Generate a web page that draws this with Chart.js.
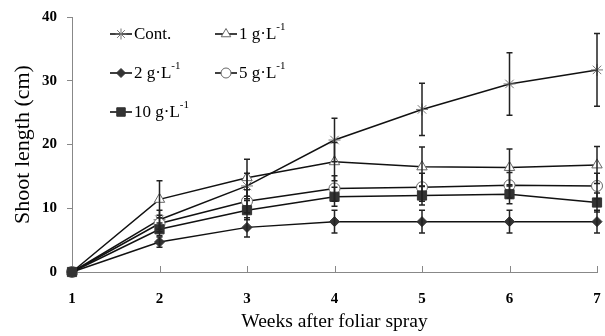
<!DOCTYPE html>
<html>
<head>
<meta charset="utf-8">
<script src="https://cdn.jsdelivr.net/npm/chart.js@4.4.1/dist/chart.umd.min.js"></script>
<style>
  html, body { margin: 0; padding: 0; background: #fff; }
  #wrap { width: 605px; height: 336px; }
</style>
</head>
<body>
<div id="wrap"><canvas id="shootChart" width="605" height="336"></canvas></div>
<script>
const weeks = ['1', '2', '3', '4', '5', '6', '7'];

const cont = [0, 8.2, 13.5, 20.7, 25.5, 29.5, 31.7];
const g1 = [0, 11.4, 14.8, 17.3, 16.5, 16.4, 16.8];
const g2 = [0, 4.7, 7.0, 7.9, 7.9, 7.9, 7.9];
const g5 = [0, 7.6, 11.1, 13.1, 13.3, 13.6, 13.5];
const g10 = [0, 6.7, 9.7, 11.8, 12.0, 12.2, 10.9];

const contErr = [0, 1.5, 2.0, 3.4, 4.1, 4.9, 5.7];
const g1Err = [0, 2.9, 2.9, 3.0, 3.1, 2.9, 2.9];
const g2Err = [0, 0.8, 1.5, 1.8, 1.8, 1.8, 1.8];
const g5Err = [0, 1.3, 1.8, 2.0, 2.2, 2.0, 2.0];
const g10Err = [0, 1.0, 1.5, 1.5, 1.5, 1.5, 1.5];

const yTicks = [0, 10, 20, 30, 40];

const serif = "'Liberation Serif', 'Times New Roman', serif";

// order: lower draws on top, so the 10 g square sits over the rest
const series = [
    { label: 'Cont.', data: cont, err: contErr, style: 'star', r: 6, fill: '#fff', stroke: '#777', order: 4 },
    { label: '1 g·L', data: g1, err: g1Err, style: 'triangle', r: 6, fill: '#fff', stroke: '#666', order: 3 },
    { label: '2 g·L', data: g2, err: g2Err, style: 'rectRot', r: 5, fill: '#333', stroke: '#333', order: 1 },
    { label: '5 g·L', data: g5, err: g5Err, style: 'circle', r: 5.5, fill: '#fff', stroke: '#666', order: 2 },
    { label: '10 g·L', data: g10, err: g10Err, style: 'rect', r: 6.5, fill: '#333', stroke: '#333', order: 0 }
];

// error bars drawn from the scales
const errorBars = {
    id: 'errorBars',
    afterDatasetsDraw(chart) {
        const ctx = chart.ctx;
        const xs = chart.scales.x, ys = chart.scales.y;
        ctx.save();
        ctx.strokeStyle = '#222';
        ctx.lineWidth = 1.5;
        series.forEach(s => {
            s.data.forEach((v, i) => {
                const e = s.err[i];
                if (!e) return;
                const x = xs.getPixelForValue(i);
                const top = ys.getPixelForValue(v + e);
                const bot = ys.getPixelForValue(v - e);
                ctx.beginPath();
                ctx.moveTo(x, top); ctx.lineTo(x, bot);
                ctx.moveTo(x - 3, top); ctx.lineTo(x + 3, top);
                ctx.moveTo(x - 3, bot); ctx.lineTo(x + 3, bot);
                ctx.stroke();
            });
        });
        ctx.restore();
    }
};

// inward x ticks
const innerTicks = {
    id: 'innerTicks',
    afterDraw(chart) {
        const ctx = chart.ctx;
        const xs = chart.scales.x;
        const bottom = chart.chartArea.bottom;
        ctx.save();
        ctx.strokeStyle = '#888';
        ctx.lineWidth = 1;
        for (let i = 1; i < weeks.length; i++) {
            const x = Math.round(xs.getPixelForValue(i)) + 0.5;
            ctx.beginPath();
            ctx.moveTo(x, bottom);
            ctx.lineTo(x, bottom - 6);
            ctx.stroke();
        }
        ctx.restore();
    }
};

// legend inside the plot
const innerLegend = {
    id: 'innerLegend',
    afterDraw(chart) {
        const ctx = chart.ctx;
        const spots = [[110, 34], [215, 34], [110, 73], [215, 73], [110, 112]];
        ctx.save();
        series.forEach((s, i) => {
            const [x, y] = spots[i];
            ctx.strokeStyle = '#000';
            ctx.lineWidth = 1.5;
            ctx.beginPath();
            ctx.moveTo(x, y); ctx.lineTo(x + 22, y);
            ctx.stroke();
            ctx.fillStyle = s.fill;
            ctx.strokeStyle = s.stroke;
            ctx.lineWidth = 1;
            Chart.helpers.drawPoint(ctx, { pointStyle: s.style, radius: s.r - 0.5, borderWidth: 1, rotation: 0 }, x + 11, y);
            ctx.fillStyle = '#000';
            ctx.font = '17px ' + serif;
            ctx.textBaseline = 'middle';
            ctx.textAlign = 'left';
            ctx.fillText(s.label, x + 24, y + 1);
            if (i > 0) {
                const w = ctx.measureText(s.label).width;
                ctx.font = '11px ' + serif;
                ctx.fillText('-1', x + 24 + w, y - 7);
            }
        });
        ctx.restore();
    }
};

const ctx = document.getElementById('shootChart').getContext('2d');
new Chart(ctx, {
    type: 'line',
    data: {
        labels: weeks,
        datasets: series.map(s => ({
            label: s.label,
            data: s.data,
            order: s.order,
            clip: false,
            borderColor: '#111',
            borderWidth: 1.5,
            tension: 0,
            fill: false,
            pointStyle: s.style,
            pointRadius: s.r,
            pointBackgroundColor: s.fill,
            pointBorderColor: s.stroke,
            pointBorderWidth: 1
        }))
    },
    options: {
        responsive: false,
        animation: false,
        layout: { autoPadding: false, padding: { top: 17, right: 8, left: 0, bottom: 0 } },
        plugins: {
            legend: { display: false },
            tooltip: { enabled: false }
        },
        scales: {
            x: {
                offset: false,
                grid: { drawOnChartArea: false, drawTicks: false },
                border: { color: '#888', width: 1 },
                ticks: {
                    padding: 18,
                    color: '#000',
                    font: { family: serif, size: 15, weight: 'bold' }
                },
                title: {
                    display: true,
                    text: 'Weeks after foliar spray',
                    color: '#000',
                    padding: { top: 4, bottom: 2 },
                    font: { family: serif, size: 19.5 }
                },
                afterFit(scale) {
                    scale.height = 64;
                    scale.paddingLeft = 0;
                    scale.paddingRight = 0;
                }
            },
            y: {
                min: 0,
                max: 40,
                afterBuildTicks(scale) { scale.ticks = yTicks.map(v => ({ value: v })); },
                grid: { drawOnChartArea: false, tickLength: 5, color: '#888' },
                border: { color: '#888', width: 1 },
                ticks: {
                    padding: 10,
                    color: '#000',
                    font: { family: serif, size: 15, weight: 'bold' }
                },
                title: {
                    display: true,
                    text: 'Shoot length (cm)',
                    color: '#000',
                    padding: { top: 10, bottom: 0 },
                    font: { family: serif, size: 22 }
                },
                afterFit(scale) {
                    scale.width = 72;
                    scale.paddingTop = 0;
                    scale.paddingBottom = 0;
                }
            }
        }
    },
    plugins: [errorBars, innerTicks, innerLegend]
});
</script>
</body>
</html>
